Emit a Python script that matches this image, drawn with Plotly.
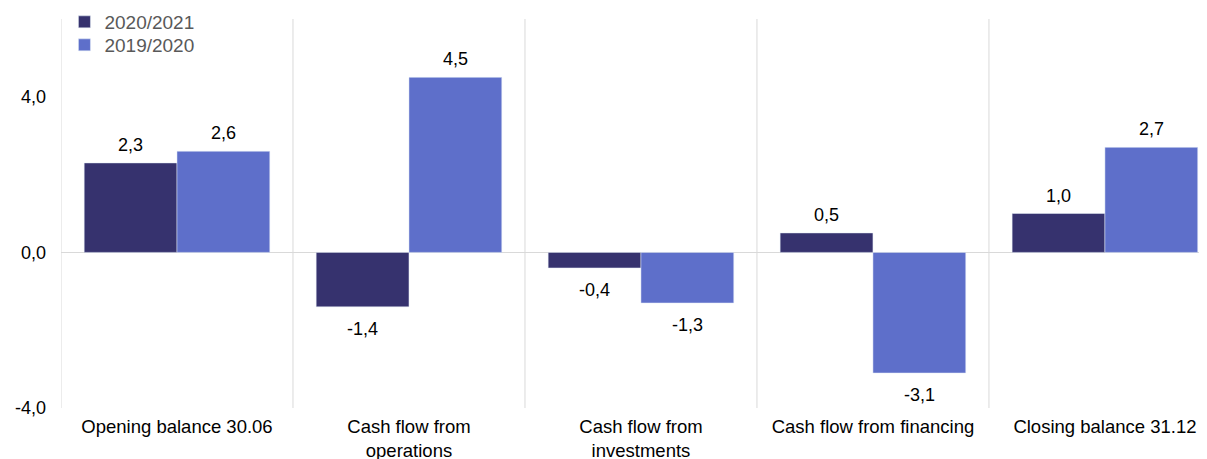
import plotly.graph_objects as go

categories = ["Opening balance 30.06", "Cash flow from<br>operations", "Cash flow from<br>investments",
              "Cash flow from financing", "Closing balance 31.12"]
series_2021 = [2.3, -1.4, -0.4, 0.5, 1.0]
series_2020 = [2.6, 4.5, -1.3, -3.1, 2.7]
y_ticks = [-4.0, 0.0, 4.0]
y_tick_labels = ["-4,0", "0,0", "4,0"]

idx = list(range(len(categories)))
font = "Liberation Sans, Arial, sans-serif"

# page body has an 8px default margin; figure is sized/offset to compensate
W, H = 1199, 451
BARGAP = 0.2
n_series = 2
bar_w = (1 - BARGAP) / n_series

fig = go.Figure()
series = [("2020/2021", series_2021, "#36326E", "legend"),
          ("2019/2020", series_2020, "#5E6FCA", "legend2")]
annotations = []
for k, (name, vals, color, leg) in enumerate(series):
    fig.add_trace(go.Bar(x=idx, y=vals, name=name, marker_color=color, legend=leg))
    offset = -(1 - BARGAP) / 2 + bar_w * (k + 0.5)
    for i, v in zip(idx, vals):
        annotations.append(dict(x=i + offset, y=v, xref="x", yref="y",
                                text=f"{v:.1f}".replace(".", ","), showarrow=False,
                                yanchor="middle", yshift=18 if v >= 0 else -22,
                                font=dict(size=18, color="#000000")))

shapes = []
for i in idx:
    shapes.append(dict(type="line", xref="x", yref="paper", x0=i - 0.5, x1=i - 0.5, y0=0, y1=1,
                       line=dict(color="#D9D9D9", width=1), layer="below"))

leg_common = dict(xanchor="left", yanchor="middle", yref="container", bgcolor="rgba(0,0,0,0)",
                  font=dict(size=19, color="#595959"), itemwidth=30)

fig.update_layout(
    width=W, height=H,
    margin=dict(l=53, r=0, t=11, b=51, autoexpand=False),
    paper_bgcolor="white", plot_bgcolor="white",
    barmode="group", bargap=BARGAP, bargroupgap=0,
    font=dict(family=font, size=18, color="#000000"),
    shapes=shapes,
    annotations=annotations,
    legend=dict(x=0.003, y=1 - 14 / H, **leg_common),
    legend2=dict(x=0.003, y=1 - 37 / H, **leg_common),
    showlegend=True,
)
fig.update_xaxes(range=[-0.5, 4.44], tickvals=idx, ticktext=categories, showgrid=False,
                 zeroline=False, showline=False, ticks="", tickfont=dict(size=18.5),
                 ticklabelstandoff=5, automargin=False)
fig.update_yaxes(range=[-4, 6], tickvals=y_ticks, ticktext=y_tick_labels, showgrid=False,
                 zeroline=True, zerolinecolor="#D9D9D9", zerolinewidth=1, showline=False,
                 ticks="", tickfont=dict(size=18), ticklabelstandoff=14, automargin=False)

fig.write_html("out.html")
